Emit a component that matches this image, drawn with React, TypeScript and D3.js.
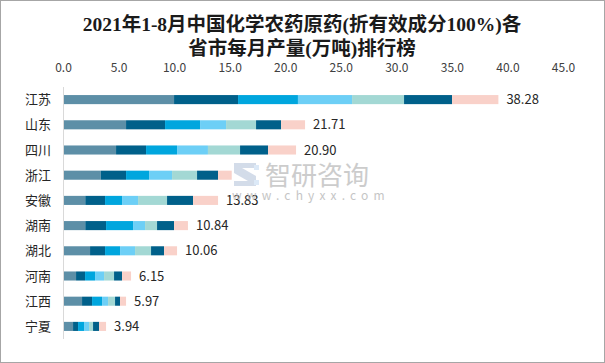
import React from "react";
import * as d3 from "d3";

// provinces, top to bottom
const provinces = ["江苏", "山东", "四川", "浙江", "安徽", "湖南", "湖北", "河南", "江西", "宁夏"];

// monthly output (万吨), 1-2月 combined then 3..8月
const m12 = [9.95, 5.63, 4.73, 3.35, 1.96, 1.96, 2.39, 1.13, 1.67, 0.86];
const m3 = [5.76, 3.51, 2.7, 2.28, 1.78, 1.87, 1.35, 0.81, 0.9, 0.45];
const m4 = [5.39, 3.15, 2.79, 2.07, 1.53, 2.43, 1.35, 0.9, 0.9, 0.54];
const m5 = [4.87, 2.34, 2.78, 2.07, 1.44, 1.08, 1.35, 0.81, 0.54, 0.45];
const m6 = [4.68, 2.7, 2.89, 2.25, 2.61, 1.08, 1.44, 0.9, 0.63, 0.36];
const m7 = [4.32, 2.25, 2.52, 1.89, 2.34, 1.53, 1.17, 0.72, 0.45, 0.54];
const m8 = [4.17, 2.16, 2.52, 1.23, 2.25, 1.25, 1.17, 0.81, 0.54, 0.63];

// total labels (浙江's label is hidden under the watermark)
const totals = ["38.28", "21.71", "20.90", null, "13.83", "10.84", "10.06", "6.15", "5.97", "3.94"];

const xTicks = [0, 5, 10, 15, 20, 25, 30, 35, 40, 45];

const series = [m12, m3, m4, m5, m6, m7, m8];
const colors = ["#5d8fa7", "#00608a", "#00a6de", "#6dcff6", "#a3d8d4", "#00608a", "#f9d1c9"];

const W = 605;
const H = 363;

const App = () => {
  const x = d3.scaleLinear().domain([0, 45]).range([63.5, 563.5]);
  const y = d3
    .scaleBand<string>()
    .domain(provinces)
    .range([87, 339])
    .paddingInner(0.64)
    .paddingOuter(0.32);

  const rows = provinces.map((p, i) => {
    const o: any = { name: p };
    series.forEach((s, k) => (o["s" + k] = s[i]));
    return o;
  });
  const keys = series.map((_, k) => "s" + k);
  const stacked = d3.stack().keys(keys)(rows);

  const font = "'Microsoft YaHei', 'Noto Sans CJK SC', 'Noto Sans', sans-serif";
  const titleFont = "'Liberation Serif', 'Noto Sans CJK SC', serif";

  return (
    <svg
      width={W}
      height={H}
      style={{ position: "absolute", left: 0, top: 0, background: "#fff" }}
    >
      <rect x={0.5} y={0.5} width={W - 1} height={H - 1} fill="#fff" stroke="#a6a6a6" />

      {/* title */}
      <text
        x={302}
        y={31}
        textAnchor="middle"
        fontSize={19.5}
        fontFamily={titleFont}
        fontWeight={600}
        fill="#1a1a1a"
      >
        2021年1-8月中国化学农药原药(折有效成分100%)各
      </text>
      <text
        x={302}
        y={55}
        textAnchor="middle"
        fontSize={19.5}
        fontFamily={titleFont}
        fontWeight={600}
        fill="#1a1a1a"
      >
        省市每月产量(万吨)排行榜
      </text>

      {/* x axis ticks on top */}
      {xTicks.map((t) => (
        <text
          key={t}
          x={x(t)}
          y={72}
          textAnchor="middle"
          fontSize={12}
          fontFamily={font}
          fill="#404040"
        >
          {t.toFixed(1)}
        </text>
      ))}

      {/* bars */}
      {stacked.map((layer, k) => (
        <g key={layer.key} fill={colors[k]}>
          {layer.map((d, i) => (
            <rect
              key={i}
              x={x(d[0])}
              y={y(provinces[i])}
              width={Math.max(0, x(d[1]) - x(d[0]))}
              height={y.bandwidth()}
            />
          ))}
        </g>
      ))}

      {/* category axis */}
      <line x1={63.5} x2={63.5} y1={87} y2={339} stroke="#d9d9d9" />
      {provinces.map((p) => (
        <text
          key={p}
          x={51}
          y={(y(p) as number) + y.bandwidth() / 2}
          dy="0.36em"
          textAnchor="end"
          fontSize={13}
          fontFamily={font}
          fill="#262626"
        >
          {p}
        </text>
      ))}

      {/* total labels */}
      {provinces.map((p, i) => {
        const last = stacked[stacked.length - 1][i][1];
        if (!totals[i]) return null;
        return (
          <text
            key={p}
            x={x(last) + 8}
            y={(y(p) as number) + y.bandwidth() / 2}
            dy="0.36em"
            fontSize={13}
            fontFamily={font}
            fill="#262626"
          >
            {totals[i]}
          </text>
        );
      })}

      {/* watermark */}
      <g opacity={0.85}>
        <path d="M234,163 h22 v5 h-14 l14,8 v10 h-22 v-5 h14 l-14,-8 z" fill="#ccd6e6" />
        <rect x={254} y={165} width={5} height={5} fill="#d6e6f6" />
        <rect x={254} y={180} width={5} height={5} fill="#d6e6f6" />
        <text x={265} y={185} fontSize={26} fontFamily={font} fill="#c4c4c4">
          智研咨询
        </text>
        <text
          x={232}
          y={200}
          fontSize={12}
          fontFamily={font}
          fill="#bcbcbc"
          letterSpacing={5.2}
        >
          www.chyxx.com
        </text>
      </g>
    </svg>
  );
};

export default App;
